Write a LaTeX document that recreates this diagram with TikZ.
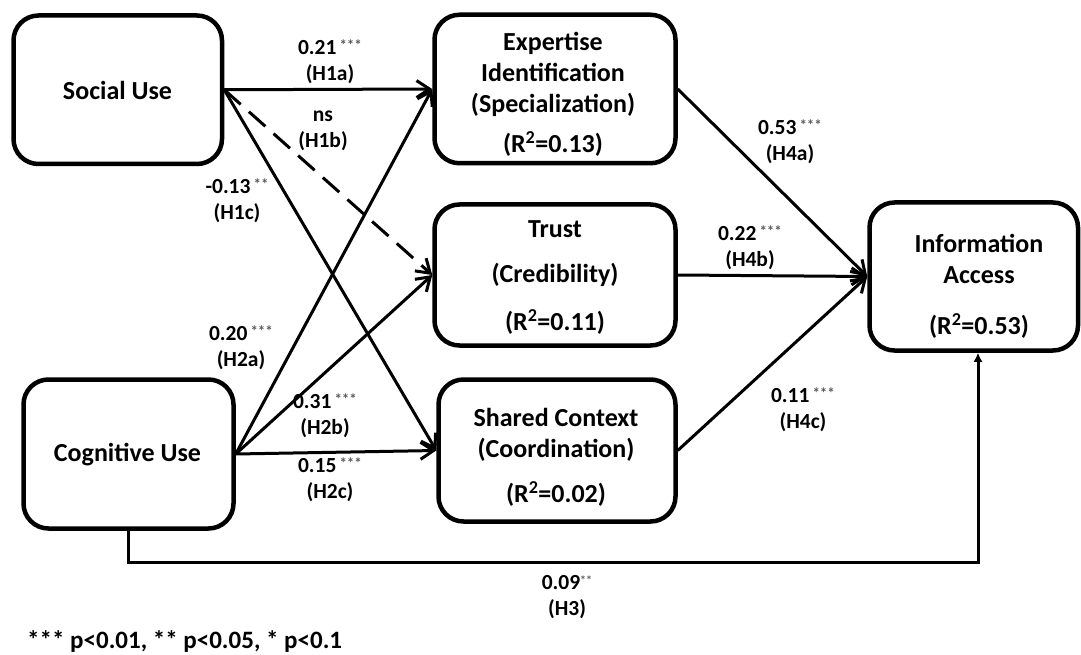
\documentclass[tikz,border=0pt]{standalone}
\usepackage{fontspec}
\setmainfont{Carlito}
\usetikzlibrary{arrows.meta}
\newcommand{\sigstars}[1]{\hspace{3pt}\raisebox{4pt}{\textcolor{black!65}{\fontsize{15}{15}\selectfont #1}}}
\begin{document}
\begin{tikzpicture}[x=1pt,y=-1pt,
  box/.style={draw, line width=4.5pt, rounded corners=25pt},
  boxtext/.style={align=center, font=\fontsize{26}{31}\selectfont\bfseries, inner sep=0pt},
  lab/.style={align=center, font=\fontsize{21.5}{26}\selectfont\bfseries, inner sep=0pt},
  conn/.style={line width=3pt, -{Straight Barb[length=13pt,width=17pt]}},
  dashedconn/.style={conn, dash pattern=on 22pt off 11pt},
  h3conn/.style={line width=3pt, -{Latex[length=9pt,width=9pt]}}
]
\fill[white] (0,0) rectangle (1081,655);
\useasboundingbox (0,0) rectangle (1081,655);

% boxes
\node[box, minimum width=208.5pt, minimum height=148.5pt] (soc) at (117.75,89.75) {};
\node[box, minimum width=210pt, minimum height=149pt] (cog) at (128.5,454) {};
\node[box, minimum width=241pt, minimum height=148.5pt] (exp) at (555,89) {};
\node[box, minimum width=241pt, minimum height=141pt] (tru) at (555,275) {};
\node[box, minimum width=237pt, minimum height=142pt] (sha) at (557,450.5) {};
\node[box, minimum width=208.5pt, minimum height=148pt] (inf) at (973.75,276.5) {};

% box texts
\node[boxtext] (soct) at (117.5,90) {Social Use};
\node[boxtext] (cogt) at (127.5,455) {Cognitive Use};
\node[boxtext] (expt) at (553,94) {Expertise\\Identification\\(Specialization)\\[9pt](R\textsuperscript{2}=0.13)};
\node[boxtext] (trut) at (555,277.5) {Trust\\[14pt](Credibility)\\[17pt](R\textsuperscript{2}=0.11)};
\node[boxtext] (shat) at (556,457.5) {Shared Context\\(Coordination)\\[14pt](R\textsuperscript{2}=0.02)};
\node[boxtext] (inft) at (979,286.5) {Information\\Access\\[20pt](R\textsuperscript{2}=0.53)};

% connectors
\draw[conn] (soc.east) -- (exp.west);
\draw[dashedconn] (soc.east) -- (tru.west);
\draw[conn] (soc.east) -- (sha.west);
\draw[conn] (cog.east) -- (exp.west);
\draw[conn] (cog.east) -- (tru.west);
\draw[conn] (cog.east) -- (sha.west);
\draw[conn] (exp.east) -- (inf.west);
\draw[conn] (tru.east) -- (inf.west);
\draw[conn] (sha.east) -- (inf.west);
\coordinate (h3c) at (978,562);
\draw[h3conn] (cog.south) |- (h3c) -- (h3c |- inf.south);

% labels
\node[lab] (l1a) at (330,62) {0.21\sigstars{***}\\(H1a)};
\node[lab] (l1b) at (323,131) {ns\\(H1b)};
\node[lab] (l1c) at (237,201) {-0.13\sigstars{**}\\(H1c)};
\node[lab] (l2a) at (241,348) {0.20\sigstars{***}\\(H2a)};
\node[lab] (l2b) at (325,416) {0.31\sigstars{***}\\(H2b)};
\node[lab] (l2c) at (330,480) {0.15\sigstars{***}\\(H2c)};
\node[lab] (l4a) at (790,142) {0.53\sigstars{***}\\(H4a)};
\node[lab] (l4b) at (750,248) {0.22\sigstars{***}\\(H4b)};
\node[lab] (l4c) at (803,410) {0.11\sigstars{***}\\(H4c)};
\node[lab] (l3) at (567,597) {0.09\raisebox{5pt}{\textcolor{black!65}{\fontsize{12}{12}\selectfont **}}\\(H3)};

\node[anchor=west, inner sep=0pt, font=\fontsize{25}{30}\selectfont\bfseries] (legend) at (27,642) {*** p<0.01, ** p<0.05, * p<0.1};
\end{tikzpicture}
\end{document}
